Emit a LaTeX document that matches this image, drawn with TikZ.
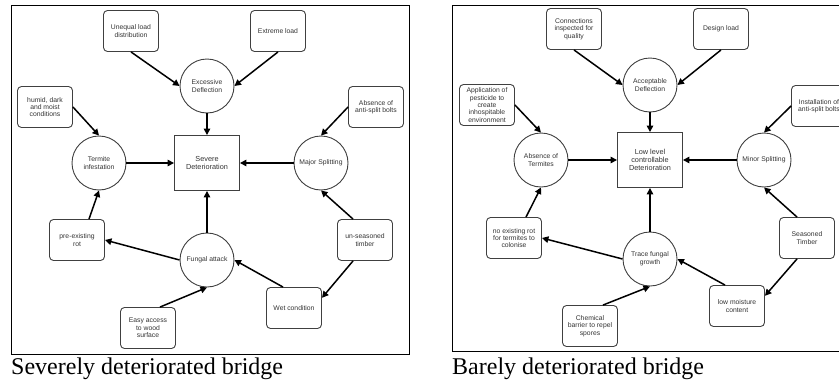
\documentclass[tikz,border=0pt]{standalone}
\usepackage{fontspec}
\setmainfont{Liberation Sans}
\newfontfamily\capfont{Liberation Serif}
\usetikzlibrary{arrows.meta}

\begin{document}
\begin{tikzpicture}[x=1pt, y=-1pt,
  cause/.style={draw=black!75, line width=0.9pt, rounded corners=4pt,
    minimum width=55pt, minimum height=41pt, inner sep=1pt, align=center,
    font=\fontsize{6.8}{7.4}\selectfont, text=black!80},
  state/.style={circle, draw=black!75, line width=0.9pt, minimum size=54pt,
    inner sep=1pt, align=center, font=\fontsize{6.8}{7.8}\selectfont, text=black!80},
  outcome/.style={draw=black!75, line width=0.9pt, minimum width=65pt,
    minimum height=55pt, inner sep=1pt, align=center,
    font=\fontsize{7.3}{8.3}\selectfont, text=black!80},
  link/.style={-{Triangle[length=6.5pt,width=6.5pt]}, line width=1.5pt},
  caption/.style={anchor=base west, inner sep=0pt, font=\capfont\fontsize{24}{24}\selectfont}]
  \clip (0,0) rectangle (839,383);

  % severely deteriorated bridge
  \draw[line width=0.8pt] (11,5) rectangle (409,354);
  \node[cause] (unequal) at (131,31) {Unequal load\\distribution};
  \node[cause] (extreme) at (278,31) {Extreme load};
  \node[state] (excess) at (207,86) {Excessive\\Deflection};
  \node[cause] (humid) at (45,107) {humid, dark\\and moist\\conditions};
  \node[cause] (nobolts) at (376,107) {Absence of\\anti-split bolts};
  \node[state] (termite) at (99,163) {Termite\\infestation};
  \node[outcome] (severe) at (207,163) {Severe\\Deterioration};
  \node[state] (major) at (321,163) {Major Splitting};
  \node[cause] (rot) at (77,240) {pre-existing\\rot};
  \node[state] (fungal) at (207,260) {Fungal attack};
  \node[cause] (unseason) at (365,240) {un-seasoned\\timber};
  \node[cause] (access) at (148,328) {Easy access\\to wood\\surface};
  \node[cause] (wet) at (294,308) {Wet condition};

  \draw[link] (unequal.south) -- (excess.west);
  \draw[link] (extreme.south) -- (excess.east);
  \draw[link] (excess) -- (severe);
  \draw[link] (humid.east) -- (termite.north);
  \draw[link] (nobolts.west) -- (major.north);
  \draw[link] (termite) -- (severe);
  \draw[link] (major) -- (severe);
  \draw[link] ([xshift=12pt]rot.north) -- (termite.south);
  \draw[link] (fungal.west) -- (rot.east);
  \draw[link] (fungal) -- (severe);
  \draw[link] ([xshift=-12pt]unseason.north) -- (major.south);
  \draw[link] ([xshift=-12pt]unseason.south) -- (wet.20);
  \draw[link] ([xshift=-11pt]wet.north) -- (fungal.east);
  \draw[link] ([xshift=12pt]access.north) -- (fungal.south);

  % barely deteriorated bridge
  \draw[line width=0.8pt] (452,5) rectangle (860,351);
  \node[cause] (inspect) at (574,29) {Connections\\inspected for\\quality};
  \node[cause] (design) at (721,29) {Design load};
  \node[state] (accept) at (650,85) {Acceptable\\Deflection};
  \node[cause] (pesticide) at (487,105) {Application of\\pesticide to\\create\\inhospitable\\environment};
  \node[cause] (bolts) at (819,106) {Installation of\\anti-split bolts};
  \node[state] (notermite) at (541,160) {Absence of\\Termites};
  \node[outcome] (low) at (650,160) {Low level\\controllable\\Deterioration};
  \node[state] (minor) at (764,160) {Minor Splitting};
  \node[cause] (norot) at (514,238) {no existing rot\\for termites to\\colonise};
  \node[state] (trace) at (650,259) {Trace fungal\\growth};
  \node[cause] (seasoned) at (807,238) {Seasoned\\Timber};
  \node[cause] (chemical) at (590,326) {Chemical\\barrier to repel\\spores};
  \node[cause] (moisture) at (737,306) {low moisture\\content};

  \draw[link] (inspect.south) -- (accept.west);
  \draw[link] (design.south) -- (accept.east);
  \draw[link] (accept) -- (low);
  \draw[link] (pesticide.east) -- (notermite.north);
  \draw[link] (bolts.west) -- (minor.north);
  \draw[link] (notermite) -- (low);
  \draw[link] (minor) -- (low);
  \draw[link] ([xshift=12pt]norot.north) -- (notermite.south);
  \draw[link] (trace.west) -- (norot.east);
  \draw[link] (trace) -- (low);
  \draw[link] ([xshift=-10pt]seasoned.north) -- (minor.south);
  \draw[link] ([xshift=-10pt]seasoned.south) -- (moisture.20);
  \draw[link] ([xshift=-12pt]moisture.north) -- (trace.east);
  \draw[link] ([xshift=13pt]chemical.north) -- (trace.south);

  \node[caption] (capl) at (11,374) {Severely deteriorated bridge};
  \node[caption] (capr) at (452,374) {Barely deteriorated bridge};
\end{tikzpicture}
\end{document}
